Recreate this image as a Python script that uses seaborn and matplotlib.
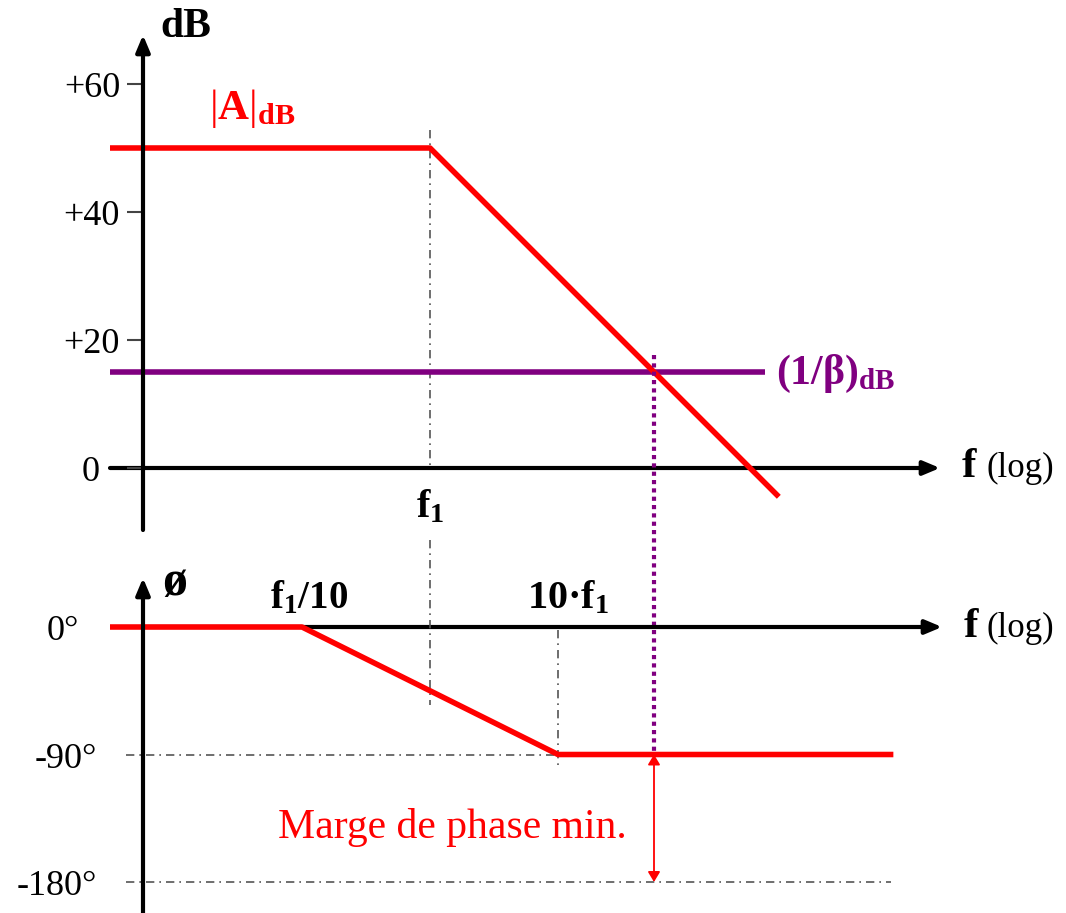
#!/usr/bin/env python3
"""
Bode diagram sketch: open-loop gain |A| vs feedback 1/beta, and the phase margin.
"""

import matplotlib
matplotlib.use("Agg")
import matplotlib.pyplot as plt
from matplotlib.transforms import offset_copy
import seaborn as sns

# x is log10(f / f1) everywhere
MAG_F = [-2.5, 0.0, 2.725]
MAG_DB = [50, 50, -4.5]
BETA_F = [-2.5, 2.62]
BETA_DB = [15, 15]
PHASE_F = [-2.5, -1.0, 1.0, 3.62]
PHASE_DEG = [0, 0, -90, -90]
F_CROSS = 1.75          # where |A| meets 1/beta
DB_TICKS = [60, 40, 20, 0]
DB_TICK_LABELS = ["+60", "+40", "+20", "0"]
PHASE_TICKS = [0, -90, -180]
PHASE_TICK_LABELS = ["0°", "-90°", "-180°"]

W, H = 1066, 913
RED = "#ff0000"
PURPLE = "#800080"
GREY = "#555555"
DASHDOT = (0, (5, 3, 1, 3))

sns.set_theme(style="white")
plt.rcParams["font.family"] = ["Liberation Serif", "DejaVu Serif"]
plt.rcParams["text.color"] = "black"
plt.rcParams["mathtext.fontset"] = "custom"
plt.rcParams["mathtext.rm"] = "Liberation Serif"
plt.rcParams["mathtext.bf"] = "Liberation Serif:bold"
plt.rcParams["mathtext.it"] = "Liberation Serif:italic"


def px_to_x(px):
    return (px - 430) / 128.0


def px_to_db(py):
    return (468 - py) / 6.4


def px_to_deg(py):
    return (627 - py) / 1.4167


fig = plt.figure(figsize=(W / 100, H / 100), dpi=100)


def add_px_axes(x0, y0, x1, y1):
    return fig.add_axes([x0 / W, 1 - y1 / H, (x1 - x0) / W, (y1 - y0) / H])


ax1 = add_px_axes(100, 20, 960, 540)
ax2 = add_px_axes(100, 540, 960, 913)
for ax in (ax1, ax2):
    ax.set_xlim(px_to_x(100), px_to_x(960))
    ax.set_axis_off()
ax1.set_ylim(px_to_db(540), px_to_db(20))
ax2.set_ylim(px_to_deg(913), px_to_deg(540))

X_AXIS = px_to_x(143)


def axis_arrow(ax, start, end, zorder):
    ax.annotate("", xy=end, xytext=start, annotation_clip=False, zorder=zorder,
                arrowprops=dict(arrowstyle="-|>,head_length=1.0,head_width=0.42",
                                lw=3, color="black", shrinkA=0, shrinkB=0,
                                mutation_scale=10))


# ---------- magnitude ----------
axis_arrow(ax1, (px_to_x(110), 0), (px_to_x(940), 0), 1)
axis_arrow(ax1, (X_AXIS, px_to_db(530)), (X_AXIS, px_to_db(35)), 6)
ax1.hlines(DB_TICKS, px_to_x(127), X_AXIS, color="#444444", lw=1.5, zorder=2)

lab_tr1 = offset_copy(ax1.transData, fig=fig, y=-13, units="dots")
for v, lab in zip(DB_TICKS, DB_TICK_LABELS):
    right = 100 if lab == "0" else 120
    ax1.text(px_to_x(right), v, lab, ha="right", va="baseline", fontsize=26,
             transform=lab_tr1)

ax1.plot([0, 0], [px_to_db(130), px_to_db(465)], color=GREY, lw=1.2,
         linestyle=DASHDOT, zorder=1)

sns.lineplot(x=BETA_F, y=BETA_DB, ax=ax1, color=PURPLE, linewidth=4,
             estimator=None, sort=False, solid_capstyle="butt", zorder=3)
sns.lineplot(x=MAG_F, y=MAG_DB, ax=ax1, color=RED, linewidth=4,
             estimator=None, sort=False, solid_capstyle="butt", zorder=4)

# dotted link from the crossover down to the phase curve (-90 deg)
ax1.plot([F_CROSS, F_CROSS], [px_to_db(355), px_to_db(754)], color=PURPLE,
         lw=3, linestyle=(0, (1, 1)), dash_capstyle="butt", clip_on=False,
         zorder=7)

ax1.text(px_to_x(160), px_to_db(37), "dB", fontsize=30, fontweight="bold",
         ha="left", va="baseline")
ax1.text(px_to_x(209), px_to_db(119), r"$\mathrm{|}\mathbf{A}\mathrm{|}_{\mathbf{dB}}$",
         fontsize=31, color=RED, ha="left", va="baseline")
ax1.text(px_to_x(776), px_to_db(384), r"$\mathbf{(1/β)_{dB}}$",
         fontsize=30, color=PURPLE, ha="left", va="baseline")
ax1.text(0, px_to_db(517), r"$\mathbf{f_1}$", fontsize=29,
         ha="center", va="baseline")
ax1.text(px_to_x(962), px_to_db(477), "f", fontsize=31, fontweight="bold",
         ha="left", va="baseline")
ax1.text(px_to_x(987), px_to_db(477), "(log)", fontsize=25,
         ha="left", va="baseline")

# ---------- phase ----------
axis_arrow(ax2, (px_to_x(143), 0), (px_to_x(942), 0), 1)
axis_arrow(ax2, (X_AXIS, px_to_deg(913)), (X_AXIS, px_to_deg(578)), 6)

lab_tr2 = offset_copy(ax2.transData, fig=fig, y=-13, units="dots")
for v, lab in zip(PHASE_TICKS, PHASE_TICK_LABELS):
    right = 79 if v == 0 else 97
    ax2.text(px_to_x(right), v, lab, ha="right", va="baseline", fontsize=26,
             transform=lab_tr2)

ax2.hlines(PHASE_TICKS[1:], px_to_x(126), px_to_x(891), color=GREY, lw=1.2,
           linestyle=DASHDOT, zorder=1)
ax2.plot([0, 0], [px_to_deg(540), px_to_deg(705)], color=GREY, lw=1.2,
         linestyle=DASHDOT, zorder=1)
ax2.plot([1, 1], [px_to_deg(630), px_to_deg(770)], color=GREY, lw=1.2,
         linestyle=DASHDOT, zorder=1)

sns.lineplot(x=PHASE_F, y=PHASE_DEG, ax=ax2, color=RED, linewidth=4,
             estimator=None, sort=False, solid_capstyle="butt", zorder=4)

ax2.annotate("", xy=(F_CROSS, -180), xytext=(F_CROSS, -90), zorder=5,
             arrowprops=dict(arrowstyle="<|-|>,head_length=0.6,head_width=0.36",
                             lw=1.3, color=RED, shrinkA=0, shrinkB=0,
                             mutation_scale=10))

ax2.text(px_to_x(162), px_to_deg(595), "ø", fontsize=36, fontweight="bold",
         ha="left", va="baseline")
ax2.text(px_to_x(309), px_to_deg(608), r"$\mathbf{f_1/10}$", fontsize=28,
         ha="center", va="baseline")
ax2.text(px_to_x(568), px_to_deg(608), r"$\mathbf{10·f_1}$", fontsize=29,
         ha="center", va="baseline")
ax2.text(px_to_x(964), px_to_deg(637), "f", fontsize=31, fontweight="bold",
         ha="left", va="baseline")
ax2.text(px_to_x(987), px_to_deg(637), "(log)", fontsize=25,
         ha="left", va="baseline")
ax2.text(px_to_x(452), px_to_deg(838), "Marge de phase min.", fontsize=30,
         color=RED, ha="center", va="baseline")

fig.savefig("out.png", dpi=100)
plt.close(fig)
